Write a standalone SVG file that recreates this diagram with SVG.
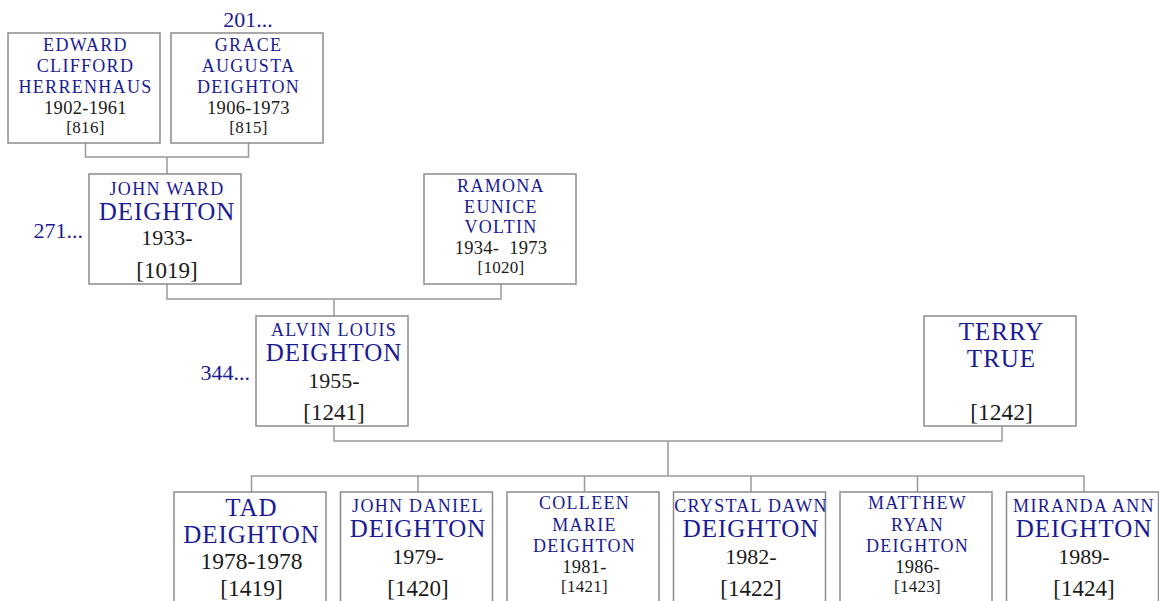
<svg xmlns="http://www.w3.org/2000/svg" width="1159" height="601" viewBox="0 0 1159 601">
<style>
text{font-family:"Liberation Serif","Times New Roman",serif;text-anchor:middle}
.box{fill:#fff;stroke:#8c8c8c;stroke-width:1.5}
.conn{fill:none;stroke:#999;stroke-width:1.5}
.nm{fill:#1a1a94;font-size:18px;letter-spacing:1.3px}
.nl{fill:#1a1a94;font-size:25px;letter-spacing:1px}
.dt{fill:#1a1a1a;font-size:18.5px;letter-spacing:0.3px}
.id{fill:#1a1a1a;font-size:17px;letter-spacing:0.3px}
.dL{fill:#1a1a1a;font-size:22px}
.iL{fill:#1a1a1a;font-size:23px}
.dC{fill:#1a1a1a;font-size:23.5px}
.more{fill:#1a1a94;font-size:22px}
.pre{white-space:pre}
</style>
<g id="connectors">
<path class="conn" d="M85.5,143 V157 H248.5 V143 M167,157 V174"/>
<path class="conn" d="M167,284 V299 H501 V284 M334,299 V316"/>
<path class="conn" d="M334,426 V441 H1002 V426 M668,441 V476"/>
<path class="conn" d="M251.5,492 V476 H1084 V492 M418,476 V492 M584.5,476 V492 M751,476 V492 M917.5,476 V492"/>
</g>
<g id="n816">
<rect class="box" x="8" y="33" width="152" height="110"/>
<text class="nm" x="85.5" y="51">EDWARD</text>
<text class="nm" x="85.5" y="72">CLIFFORD</text>
<text class="nm" x="85.5" y="93">HERRENHAUS</text>
<text class="dt" x="85.5" y="114">1902-1961</text>
<text class="id" x="85.5" y="133">[816]</text>
</g>
<g id="n815">
<text class="more" x="248" y="27">201...</text>
<rect class="box" x="171" y="33" width="152" height="110"/>
<text class="nm" x="248.5" y="51">GRACE</text>
<text class="nm" x="248.5" y="72">AUGUSTA</text>
<text class="nm" x="248.5" y="93">DEIGHTON</text>
<text class="dt" x="248.5" y="114">1906-1973</text>
<text class="id" x="248.5" y="133">[815]</text>
</g>
<g id="n1019">
<text class="more" x="83" y="238" style="text-anchor:end">271...</text>
<rect class="box" x="89" y="174" width="152" height="110"/>
<text class="nm" x="167" y="195">JOHN WARD</text>
<text class="nl" x="167" y="220">DEIGHTON</text>
<text class="dL" x="167" y="245">1933-</text>
<text class="iL" x="167" y="278">[1019]</text>
</g>
<g id="n1020">
<rect class="box" x="424" y="174" width="152" height="110"/>
<text class="nm" x="501" y="192">RAMONA</text>
<text class="nm" x="501" y="213">EUNICE</text>
<text class="nm" x="501" y="233">VOLTIN</text>
<text class="dt pre" x="501" y="254">1934-  1973</text>
<text class="id" x="501" y="273">[1020]</text>
</g>
<g id="n1241">
<text class="more" x="250" y="380" style="text-anchor:end">344...</text>
<rect class="box" x="256" y="316" width="152" height="110"/>
<text class="nm" x="334" y="336">ALVIN LOUIS</text>
<text class="nl" x="334" y="361">DEIGHTON</text>
<text class="dL" x="334" y="388">1955-</text>
<text class="iL" x="334" y="420">[1241]</text>
</g>
<g id="n1242">
<rect class="box" x="924" y="316" width="152" height="110"/>
<text class="nl" x="1001.5" y="340">TERRY</text>
<text class="nl" x="1001.5" y="367">TRUE</text>
<text class="dC" x="1001.5" y="420">[1242]</text>
</g>
<g id="n1419">
<rect class="box" x="174" y="492" width="152" height="110"/>
<text class="nl" x="251.5" y="516">TAD</text>
<text class="nl" x="251.5" y="543">DEIGHTON</text>
<text class="dC" x="251.5" y="569">1978-1978</text>
<text class="dC" x="251.5" y="596">[1419]</text>
</g>
<g id="n1420">
<rect class="box" x="340.5" y="492" width="152" height="110"/>
<text class="nm" x="418" y="512">JOHN DANIEL</text>
<text class="nl" x="418" y="537">DEIGHTON</text>
<text class="dL" x="418" y="564">1979-</text>
<text class="iL" x="418" y="596">[1420]</text>
</g>
<g id="n1421">
<rect class="box" x="507" y="492" width="152" height="110"/>
<text class="nm" x="584.5" y="509">COLLEEN</text>
<text class="nm" x="584.5" y="531">MARIE</text>
<text class="nm" x="584.5" y="552">DEIGHTON</text>
<text class="dt" x="584.5" y="573">1981-</text>
<text class="id" x="584.5" y="592">[1421]</text>
</g>
<g id="n1422">
<rect class="box" x="673.5" y="492" width="152" height="110"/>
<text class="nm" x="751" y="512">CRYSTAL DAWN</text>
<text class="nl" x="751" y="537">DEIGHTON</text>
<text class="dL" x="751" y="564">1982-</text>
<text class="iL" x="751" y="596">[1422]</text>
</g>
<g id="n1423">
<rect class="box" x="840" y="492" width="152" height="110"/>
<text class="nm" x="917.5" y="509">MATTHEW</text>
<text class="nm" x="917.5" y="531">RYAN</text>
<text class="nm" x="917.5" y="552">DEIGHTON</text>
<text class="dt" x="917.5" y="573">1986-</text>
<text class="id" x="917.5" y="592">[1423]</text>
</g>
<g id="n1424">
<rect class="box" x="1006.5" y="492" width="152" height="110"/>
<text class="nm" x="1084" y="512">MIRANDA ANN</text>
<text class="nl" x="1084" y="537">DEIGHTON</text>
<text class="dL" x="1084" y="564">1989-</text>
<text class="iL" x="1084" y="596">[1424]</text>
</g>
</svg>
